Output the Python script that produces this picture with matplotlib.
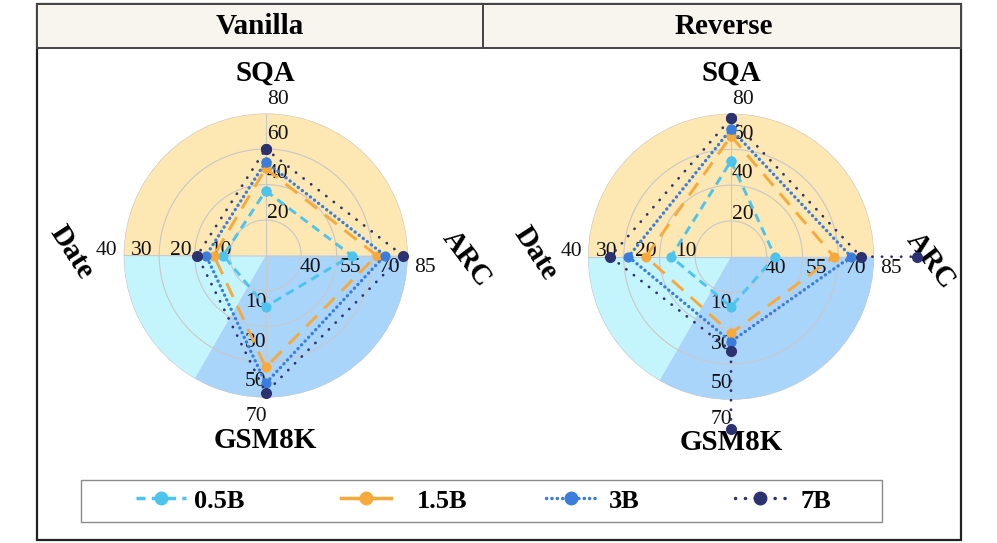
import numpy as np
import matplotlib
matplotlib.use('Agg')
import matplotlib.pyplot as plt
from matplotlib.lines import Line2D
from matplotlib.patches import Rectangle

W, H = 997, 543

# ---------------- data ----------------
axis_names = ['SQA', 'ARC', 'GSM8K', 'Date']
sqa_ticks = [20, 40, 60, 80]
arc_ticks = [40, 55, 70, 85]
gsm_ticks = [10, 30, 50, 70]
date_ticks = [10, 20, 30, 40]
models = ['0.5B', '1.5B', '3B', '7B']
panel_titles = ['Vanilla', 'Reverse']

# values in axis order: SQA, ARC, GSM8K, Date
vanilla_05 = [36.5, 61.3, 18.8, 11.9]
vanilla_15 = [49.1, 71.9, 53.0, 14.6]
vanilla_3 = [52.8, 75.4, 62.0, 16.8]
vanilla_7 = [60.0, 82.9, 67.3, 19.3]

reverse_05 = [53.5, 43.5, 18.0, 16.8]
reverse_15 = [67.5, 68.2, 32.9, 23.8]
reverse_3 = [71.4, 75.4, 37.5, 28.7]
reverse_7 = [77.4, 79.5, 42.6, 33.8]
reverse_7_outer_arc = 103.0
reverse_7_outer_gsm = 86.4

# ---------------- style ----------------
SERIF = ['Liberation Serif', 'DejaVu Serif']
colors = {'0.5B': '#4cc4ee', '1.5B': '#f8a93b', '3B': '#3a7ddc', '7B': '#2c3270'}
styles = {'0.5B': (0, (3.0, 2.0)), '1.5B': (0, (5.2, 3.4)), '3B': (0, (0.05, 1.5)),
          '7B': (0, (0.05, 3.4))}
widths = {'0.5B': 2.1, '1.5B': 2.1, '3B': 2.4, '7B': 2.0}
capstyle = {'0.5B': 'butt', '1.5B': 'butt', '3B': 'round', '7B': 'round'}
msize = {'0.5B': 6.3, '1.5B': 6.3, '3B': 6.3, '7B': 7}

ticks_by_axis = {'SQA': sqa_ticks, 'ARC': arc_ticks, 'GSM8K': gsm_ticks, 'Date': date_ticks}
angle = {'SQA': np.pi / 2, 'ARC': 0.0, 'GSM8K': -np.pi / 2, 'Date': -np.pi}


def norm(axname, v):
    t = ticks_by_axis[axname]
    step = t[1] - t[0]
    lo, hi = t[0] - step, t[-1]
    return (v - lo) / (hi - lo)


fig = plt.figure(figsize=(W / 100, H / 100), dpi=100)


def fx(x):
    return x / W


def fy(y):
    return 1 - y / H


# frame and header
fig.add_artist(Rectangle((fx(37), fy(540)), fx(961) - fx(37), fy(4) - fy(540),
                         transform=fig.transFigure, fill=False, ec='#222222', lw=1.6, zorder=0))
fig.add_artist(Rectangle((fx(37), fy(48)), fx(961) - fx(37), fy(4) - fy(48),
                         transform=fig.transFigure, fc='#f8f5ee', ec='#444444', lw=1.4, zorder=0))
fig.add_artist(Line2D([fx(483), fx(483)], [fy(4), fy(48)], transform=fig.transFigure,
                      color='#444444', lw=1.4))
fig.text(fx(260), fy(27), panel_titles[0], ha='center', va='center', fontsize=21,
         fontweight='bold', family=SERIF)
fig.text(fx(724), fy(27), panel_titles[1], ha='center', va='center', fontsize=21,
         fontweight='bold', family=SERIF)


def radar(center, R, series, extra=None, arc_lab_r=1.41, date_lab_r=1.37):
    cx, cy = center
    ax = fig.add_axes([fx(cx - R), fy(cy + R), 2 * R / W, 2 * R / H], projection='polar')
    ax.set_ylim(0, 1)
    ax.set_axis_off()
    ax.patch.set_visible(False)

    # background sectors
    rr = 1.025
    sectors = [(0, 180, '#fde7b2', '#f9dc98'), (180, 240, '#c5f5fc', '#c5f5fc'),
               (240, 360, '#aad5fa', '#a6d8f8')]
    for a0, a1, fc, ec in sectors:
        th = np.radians(np.linspace(a0, a1, 200))
        ax.fill(np.r_[th, 0], np.r_[np.full_like(th, rr), 0], fc=fc, ec='none', zorder=0.5)
        ax.plot(th, np.full_like(th, rr), color=ec, lw=1.2, zorder=0.6)

    # grid
    th = np.linspace(0, 2 * np.pi, 361)
    for k in range(1, 5):
        ax.plot(th, np.full_like(th, k / 4), color='#c8c8c8', lw=0.8, zorder=1)
    ax.plot([0, np.pi], [1, 1], color='#c8c8c8', lw=0.8, zorder=1)
    ax.plot([np.pi / 2, 3 * np.pi / 2], [1, 1], color='#c8c8c8', lw=0.8, zorder=1)

    # tick labels
    lab_r = [0.313, 0.596, 0.872, 1.119]
    for name in axis_names:
        for t, r in zip(ticks_by_axis[name], lab_r):
            if name == 'SQA':
                kw = dict(xytext=(0.8, 0), ha='left', va='center_baseline')
            elif name == 'ARC':
                kw = dict(xytext=(0, -7), ha='center', va='center_baseline')
            elif name == 'Date':
                kw = dict(xytext=(0, 5.5), ha='center', va='center_baseline')
            else:
                kw = dict(xytext=(0.8, 0), ha='right', va='center_baseline')
            ax.annotate(str(t), xy=(angle[name], r), textcoords='offset points',
                        fontsize=15.5, family=SERIF, color='#111111', zorder=2,
                        annotation_clip=False, **kw)

    # axis names
    ax.text(np.pi / 2, 1.285, 'SQA', ha='center', va='center', fontsize=21,
            fontweight='bold', family=SERIF)
    ax.text(-np.pi / 2, 1.30, 'GSM8K', ha='center', va='center', fontsize=21,
            fontweight='bold', family=SERIF)
    ax.text(-np.pi - 0.015, date_lab_r, 'Date', ha='center', va='center', fontsize=21,
            fontweight='bold', family=SERIF, rotation=-57, rotation_mode='anchor')
    ax.text(-0.018, arc_lab_r, 'ARC', ha='center', va='center', fontsize=21,
            fontweight='bold', family=SERIF, rotation=-53, rotation_mode='anchor')

    # series
    for m, vals in zip(models, series):
        if extra is not None and m in extra:
            pts = extra[m]
        else:
            pts = [(n, v) for n, v in zip(axis_names, vals)] + [(axis_names[0], vals[0])]
        thetas, rs = [], []
        for p in pts:
            if p is None:
                thetas.append(np.nan)
                rs.append(np.nan)
                continue
            n, v = p
            thetas.append(angle[n])
            rs.append(norm(n, v))
        ax.plot(thetas, rs, color=colors[m], ls=styles[m], lw=widths[m], marker='o',
                ms=msize[m], mec=colors[m], mfc=colors[m], clip_on=False, zorder=3,
                dash_capstyle=capstyle[m])
    return ax


radar((265.7, 255.5), 142, [vanilla_05, vanilla_15, vanilla_3, vanilla_7],
      arc_lab_r=1.415, date_lab_r=1.37)
rev7_path = [('SQA', reverse_7[0]), ('ARC', reverse_7[1]), ('ARC', reverse_7_outer_arc), None,
             ('GSM8K', reverse_7_outer_gsm), ('GSM8K', reverse_7[2]), ('Date', reverse_7[3]),
             ('SQA', reverse_7[0])]
radar((731, 256.7), 143, [reverse_05, reverse_15, reverse_3, reverse_7],
      extra={'7B': rev7_path}, arc_lab_r=1.40, date_lab_r=1.37)

# legend
fig.add_artist(Rectangle((fx(80.5), fy(521.5)), fx(882) - fx(80.5), fy(480) - fy(521.5),
                         transform=fig.transFigure, fill=False, ec='#8a8a8a', lw=1.0))
leg_ls = {'0.5B': (0, (2.6, 1.8)), '1.5B': '-', '3B': (0, (0.05, 1.5)), '7B': (0, (0.05, 2.8))}
handle_x = [135.7, 340.8, 545.8, 735.0]
text_x = [193.6, 417.0, 609.0, 800.8]
fs = 19
fs_px = fs * 100 / 72
hl_px = 50
for m, hx, tx in zip(models, handle_x, text_x):
    h = Line2D([], [], color=colors[m], ls=leg_ls[m], lw=2.5, marker='o', ms=9,
               dash_capstyle=capstyle[m])
    fig.legend([h], [m], loc='center left', bbox_to_anchor=(fx(hx), fy(500.8)),
               frameon=False, borderpad=0, borderaxespad=0, handlelength=hl_px / fs_px,
               handletextpad=(tx - hx - hl_px) / fs_px,
               prop={'family': SERIF, 'weight': 'bold', 'size': fs})

fig.savefig('out.png', dpi=100)
